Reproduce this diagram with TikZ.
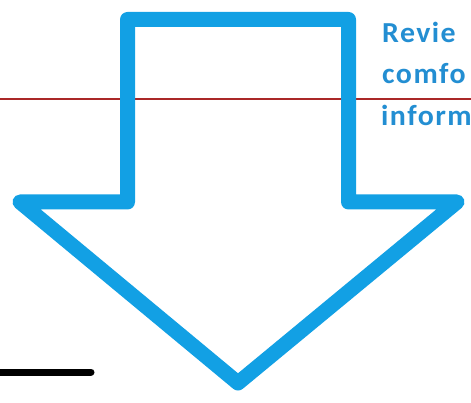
\documentclass[tikz,border=0pt]{standalone}
\usepackage{fontspec}
\setmainfont{Carlito}
\newfontfamily\notefont[LetterSpace=5, FakeStretch=1.03]{Carlito}
\definecolor{arrowblue}{RGB}{18,160,228}
\definecolor{textblue}{RGB}{35,142,210}
\definecolor{rulered}{RGB}{170,40,40}
\begin{document}
\begin{tikzpicture}[x=1pt, y=-1pt,
  note/.style={anchor=base west, inner sep=0pt, text=textblue, font=\notefont\fontsize{29}{29}\selectfont\bfseries}]
  \useasboundingbox (0,0) rectangle (471,403);
  % guide line behind the arrow
  \draw[rulered, line width=1.3pt] (0,99) -- (471,99);
  % hollow down arrow
  \draw[arrowblue, line width=15pt, line join=round] (127.5,19.5) -- (348.5,19.5) -- (348.5,202) -- (457,202)
    -- (238,383) -- (20,202) -- (127.5,202) -- cycle;
  % struck-out line at bottom left
  \draw[black, line width=7pt, line cap=round] (0,372) -- (91,372);
  \node[note] (l1) at (382,43) {Revie};
  \node[note] (l2) at (382,84) {comfo};
  \node[note] (l3) at (381,126) {inform};
\end{tikzpicture}
\end{document}
